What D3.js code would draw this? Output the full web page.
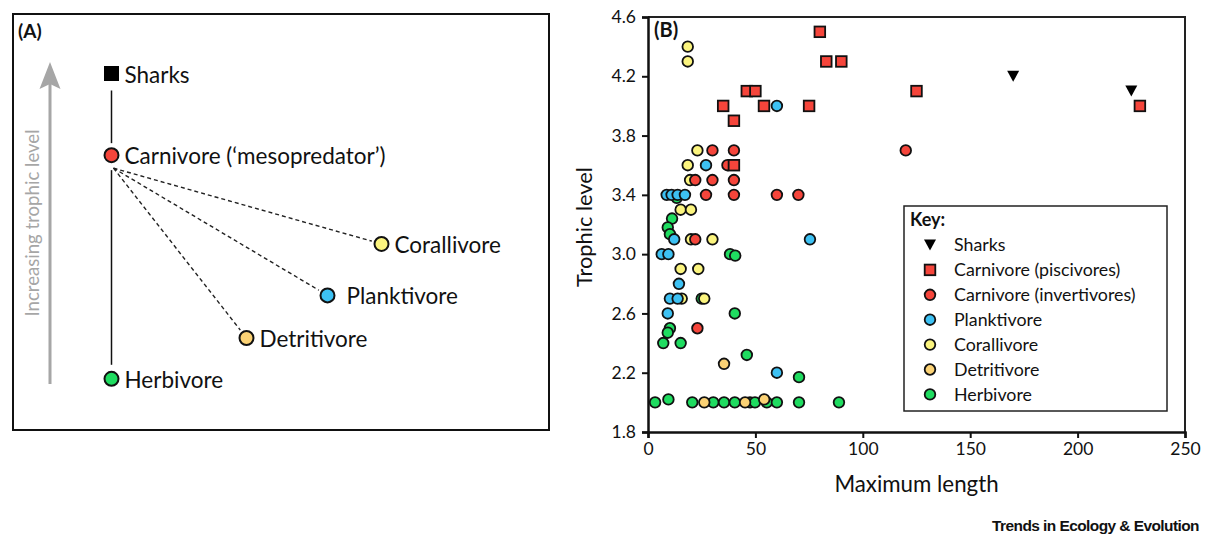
<!DOCTYPE html>
<html>
<head>
<meta charset="utf-8">
<script src="https://cdn.jsdelivr.net/npm/d3@7"></script>
<style>
  body { margin: 0; background: #fff; }
  text { font-family: Lato, "Open Sans", sans-serif; fill: #111; }
</style>
</head>
<body>
<svg id="fig" width="1207" height="538"></svg>
<script>
// ---- panel A: schematic food web ----
var nodeNames = ["Sharks", "Carnivore (\u2018mesopredator\u2019)", "Corallivore", "Planktivore", "Detritivore", "Herbivore"];
var nodeLevel = [9.0, 6.7, 4.2, 2.75, 1.55, 0.4];
var nodeSpread = [0, 0, 10, 8, 5, 0];
var nodeColor = ["#000000", "#f5453b", "#fbf47e", "#3dc1f3", "#fbd275", "#1fdc60"];

// ---- panel B: trophic level vs maximum length ----
var seriesNames = ["Sharks", "Carnivore (piscivores)", "Carnivore (invertivores)", "Planktivore", "Corallivore", "Detritivore", "Herbivore"];
var seriesColor = ["#000000", "#f5453b", "#f5453b", "#3dc1f3", "#fbf47e", "#fbd275", "#1fdc60"];
var seriesShape = ["triangle", "square", "circle", "circle", "circle", "circle", "circle"];

var sharkLen = [170, 225];
var sharkTL  = [4.2, 4.1];
var piscLen = [80, 83, 90, 46, 50, 125, 35, 54, 75, 229, 40, 40];
var piscTL  = [4.5, 4.3, 4.3, 4.1, 4.1, 4.1, 4.0, 4.0, 4.0, 4.0, 3.9, 3.6];
var invLen = [30, 40, 120, 37, 22, 30, 40, 27, 40, 60, 70, 22, 23];
var invTL  = [3.7, 3.7, 3.7, 3.6, 3.5, 3.5, 3.5, 3.4, 3.4, 3.4, 3.4, 3.1, 2.5];
var plankLen = [60, 27, 8.7, 11, 13.8, 17.2, 12.2, 75.4, 6.4, 9.5, 14.4, 10.2, 13.8, 9.2, 60];
var plankTL  = [4.0, 3.6, 3.4, 3.4, 3.4, 3.4, 3.1, 3.1, 3.0, 3.0, 2.8, 2.7, 2.7, 2.6, 2.2];
var coralLen = [18.5, 18.5, 23, 18.5, 19.6, 15.2, 20, 20, 30, 15.2, 23.4, 15.7, 26.2];
var coralTL  = [4.4, 4.3, 3.7, 3.6, 3.5, 3.3, 3.3, 3.1, 3.1, 2.9, 2.9, 2.7, 2.7];
var detLen = [35.4, 26.2, 45.2, 54.1];
var detTL  = [2.26, 2.0, 2.0, 2.02];
var herbLen = [11.2, 9.2, 10.2, 13.4, 38.2, 40.6, 40.4, 25, 10.2, 9.2, 7.1, 15.2, 46, 70.3,
               3.3, 9.5, 20.6, 30.4, 35.4, 40.4, 47.5, 49.8, 55.3, 60, 70.3, 88.9];
var herbTL  = [3.24, 3.18, 3.135, 3.38, 3.0, 2.99, 2.6, 2.7, 2.5, 2.47, 2.4, 2.4, 2.32, 2.17,
               2.0, 2.02, 2.0, 2.0, 2.0, 2.0, 2.0, 2.0, 2.0, 2.0, 2.0, 2.0];

var xTicks = [0, 50, 100, 150, 200, 250];
var yTicks = [1.8, 2.2, 2.6, 3.0, 3.4, 3.8, 4.2, 4.6];

var svg = d3.select("#fig");

// ================= panel A =================
var gA = svg.append("g");
gA.append("rect").attr("x", 13).attr("y", 14).attr("width", 536).attr("height", 416)
  .attr("fill", "none").attr("stroke", "#111").attr("stroke-width", 2);
gA.append("text").attr("x", 18).attr("y", 38).style("font-weight", "bold").style("font-size", "19px").text("(A)");

// gray arrow
gA.append("line").attr("x1", 50).attr("x2", 50).attr("y1", 384).attr("y2", 84)
  .attr("stroke", "#a6a6a6").attr("stroke-width", 3);
gA.append("path").attr("d", "M39.5,89 L50,62 L60.5,89 L50,84 Z").attr("fill", "#a6a6a6");
gA.append("text").attr("transform", "translate(39,223) rotate(-90)")
  .attr("text-anchor", "middle").style("font-size", "18.6px").style("fill", "#a6a6a6")
  .text("Increasing trophic level");

var yA = d3.scaleLinear().domain([0, 10]).range([393, 38]);
var xA = d3.scaleLinear().domain([0, 10]).range([111.5, 381.5]);

var nodes = nodeNames.map(function(n, i) {
  return {name: n, x: xA(nodeSpread[i]), y: yA(nodeLevel[i]), color: nodeColor[i]};
});
var carn = nodes[1];

// solid vertical links
gA.append("line").attr("x1", nodes[0].x).attr("x2", nodes[0].x)
  .attr("y1", nodes[0].y + 17).attr("y2", carn.y - 12).attr("stroke", "#111").attr("stroke-width", 1.5);
gA.append("line").attr("x1", carn.x).attr("x2", carn.x)
  .attr("y1", carn.y + 15).attr("y2", nodes[5].y - 14).attr("stroke", "#111").attr("stroke-width", 1.5);

// dashed links to the other groups
var sx = carn.x + 2, sy = carn.y + 13;
gA.selectAll("line.dash").data(nodes.slice(2, 5)).enter().append("line")
  .attr("class", "dash")
  .attr("x1", sx).attr("y1", sy)
  .attr("x2", function(d) { var a = Math.atan2(d.y - sy, d.x - sx); return d.x - 10 * Math.cos(a); })
  .attr("y2", function(d) { var a = Math.atan2(d.y - sy, d.x - sx); return d.y - 10 * Math.sin(a); })
  .attr("stroke", "#222").attr("stroke-width", 1.4).attr("stroke-dasharray", "4,3");

gA.append("rect").attr("x", nodes[0].x - 7.5).attr("y", nodes[0].y - 7.5)
  .attr("width", 15).attr("height", 15).attr("fill", "#000");
gA.selectAll("circle").data(nodes.slice(1)).enter().append("circle")
  .attr("cx", function(d) { return d.x; }).attr("cy", function(d) { return d.y; })
  .attr("r", 7).attr("fill", function(d) { return d.color; })
  .attr("stroke", "#111").attr("stroke-width", 2);
gA.selectAll("text.node").data(nodes).enter().append("text")
  .attr("class", "node")
  .attr("x", function(d) { return d.x + (d.name === "Planktivore" ? 19 : 13); })
  .attr("y", function(d) { return d.y + 9; })
  .style("font-size", "22.5px")
  .text(function(d) { return d.name; });

// ================= panel B =================
var x = d3.scaleLinear().domain([0, 250]).range([648, 1185]);
var y = d3.scaleLinear().domain([1.8, 4.6]).range([432, 17]);

var gB = svg.append("g");
// frame (top + right)
gB.append("path").attr("d", "M" + x(0) + "," + y(4.6) + "H" + x(250) + "V" + y(1.8))
  .attr("fill", "none").attr("stroke", "#222").attr("stroke-width", 2);

var xAxis = d3.axisBottom(x).tickValues(xTicks).tickSize(6).tickPadding(5).tickFormat(d3.format("d"));
var yAxis = d3.axisLeft(y).tickValues(yTicks).tickSize(6).tickPadding(6).tickFormat(d3.format(".1f"));

gB.append("g").attr("class", "axis").attr("transform", "translate(0," + y(1.8) + ")").call(xAxis);
gB.append("g").attr("class", "axis").attr("transform", "translate(" + x(0) + ",0)").call(yAxis);
gB.selectAll(".axis path").attr("stroke", "#111").attr("stroke-width", 2.5);
gB.selectAll(".axis line").attr("stroke", "#111").attr("stroke-width", 2);
gB.selectAll(".axis text").style("font-size", "17.5px").style("font-family", "Lato, sans-serif").attr("fill", "#222");

gB.append("text").attr("x", (x(0) + x(250)) / 2).attr("y", 492).attr("text-anchor", "middle")
  .style("font-size", "22.3px").text("Maximum length");
gB.append("text").attr("transform", "translate(592,227) rotate(-90)").attr("text-anchor", "middle")
  .style("font-size", "21.8px").text("Trophic level");
gB.append("text").attr("x", 654).attr("y", 37).style("font-weight", "bold").style("font-size", "20px").text("(B)");

// points, drawn back to front
var series = [
  {i: 6, len: herbLen, tl: herbTL},
  {i: 5, len: detLen, tl: detTL},
  {i: 4, len: coralLen, tl: coralTL},
  {i: 3, len: plankLen, tl: plankTL},
  {i: 2, len: invLen, tl: invTL},
  {i: 1, len: piscLen, tl: piscTL},
  {i: 0, len: sharkLen, tl: sharkTL}
];

function drawMark(sel, shape, color) {
  if (shape === "circle") {
    sel.append("circle").attr("r", 5.3).attr("fill", color).attr("stroke", "#111").attr("stroke-width", 1.8);
  } else if (shape === "square") {
    sel.append("rect").attr("x", -5.3).attr("y", -5.3).attr("width", 10.6).attr("height", 10.6)
      .attr("fill", color).attr("stroke", "#111").attr("stroke-width", 1.8);
  } else {
    sel.append("path").attr("d", "M-6,-5.5 L6,-5.5 L0,5.5 Z").attr("fill", color);
  }
}

series.forEach(function(s) {
  var pts = s.len.map(function(v, k) { return [v, s.tl[k]]; });
  gB.append("g").selectAll("g").data(pts).enter().append("g")
    .attr("transform", function(d) { return "translate(" + x(d[0]) + "," + y(d[1]) + ")"; })
    .each(function() { drawMark(d3.select(this), seriesShape[s.i], seriesColor[s.i]); });
});

// legend
var lg = gB.append("g");
lg.append("rect").attr("x", 904).attr("y", 206).attr("width", 263).attr("height", 205)
  .attr("fill", "#fff").attr("stroke", "#222").attr("stroke-width", 1.5);
lg.append("text").attr("x", 910).attr("y", 226).style("font-weight", "bold").style("font-size", "18px").text("Key:");
var rows = lg.selectAll("g.row").data(seriesNames).enter().append("g")
  .attr("class", "row")
  .attr("transform", function(d, i) { return "translate(930," + (245 + i * 24.9) + ")"; });
rows.each(function(d, i) { drawMark(d3.select(this), seriesShape[i], seriesColor[i]); });
rows.append("text").attr("x", 24).attr("dy", "0.36em").style("font-size", "17.8px").text(function(d) { return d; });

// journal credit
svg.append("text").attr("x", 1199).attr("y", 531).attr("text-anchor", "end")
  .attr("textLength", 207).attr("lengthAdjust", "spacingAndGlyphs")
  .style("font-family", "'Liberation Sans', Arial, sans-serif").style("font-weight", "bold")
  .style("font-size", "14px").style("letter-spacing", "-0.5px")
  .text("Trends in Ecology & Evolution");
</script>
</body>
</html>
